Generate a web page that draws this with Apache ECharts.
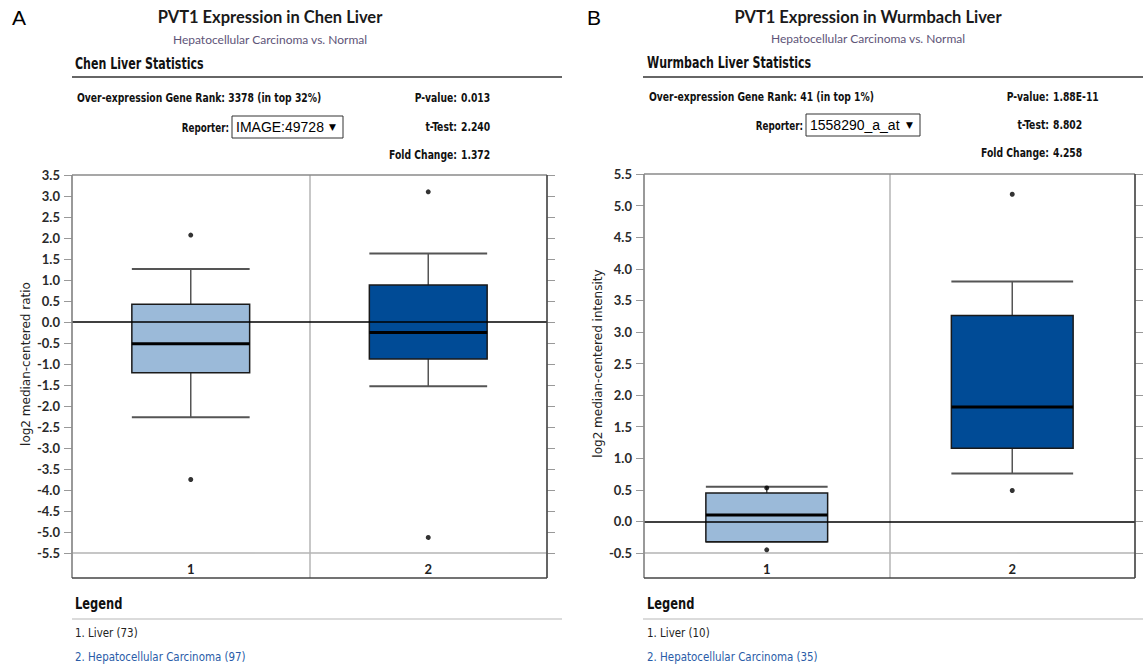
<!DOCTYPE html>
<html>
<head>
<meta charset="utf-8">
<script src="https://cdn.jsdelivr.net/npm/echarts@6/dist/echarts.min.js"></script>
<style>
html,body{margin:0;padding:0;background:#fff;}
#chart{width:1143px;height:668px;}
</style>
</head>
<body>
<div id="chart"></div>
<script>
// ---------------- data ----------------
const chenCategories = ['1', '2'];
// [lower whisker, Q1, median, Q3, upper whisker]
const chenBoxes = [
  [-2.27, -1.21, -0.52, 0.42, 1.26],
  [-1.53, -0.88, -0.25, 0.88, 1.63]
];
const chenOutliers = [[0, 2.07], [0, -3.75], [1, 3.10], [1, -5.13]];

const wurmCategories = ['1', '2'];
const wurmBoxes = [
  [-0.32, -0.32, 0.10, 0.45, 0.55],
  [0.76, 1.16, 1.81, 3.26, 3.80]
];
const wurmOutliers = [[0, 0.53], [0, -0.45], [1, 5.18], [1, 0.49]];

const chenAxis = { min: -5.5, max: 3.5, step: 0.5 };
const wurmAxis = { min: -0.5, max: 5.5, step: 0.5 };

const chenStats = {
  title: 'PVT1 Expression in Chen Liver',
  subtitle: 'Hepatocellular Carcinoma vs. Normal',
  header: 'Chen Liver Statistics',
  rank: 'Over-expression Gene Rank: 3378 (in top 32%)',
  reporter: 'IMAGE:49728',
  labels: ['P-value:', 't-Test:', 'Fold Change:'],
  values: ['0.013', '2.240', '1.372'],
  yName: 'log2 median-centered ratio',
  legend: ['1. Liver (73)', '2. Hepatocellular Carcinoma (97)']
};
const wurmStats = {
  title: 'PVT1 Expression in Wurmbach Liver',
  subtitle: 'Hepatocellular Carcinoma vs. Normal',
  header: 'Wurmbach Liver Statistics',
  rank: 'Over-expression Gene Rank: 41 (in top 1%)',
  reporter: '1558290_a_at',
  labels: ['P-value:', 't-Test:', 'Fold Change:'],
  values: ['1.88E-11', '8.802', '4.258'],
  yName: 'log2 median-centered intensity',
  legend: ['1. Liver (10)', '2. Hepatocellular Carcinoma (35)']
};

// ---------------- styles ----------------
const NARROW = '"DejaVu Sans Condensed", "DejaVu Sans", sans-serif';
const boxFill = ['#9bbad9', '#004b96'];
const gridGray = '#b4b4b4';

const chart = echarts.init(document.getElementById('chart'), null, { renderer: 'svg', width: 1143, height: 668 });

function boxRenderer(params, api) {
  const i = api.value(0);
  const lo = api.coord([i, api.value(1)]);
  const q1 = api.coord([i, api.value(2)]);
  const md = api.coord([i, api.value(3)]);
  const q3 = api.coord([i, api.value(4)]);
  const hi = api.coord([i, api.value(5)]);
  const band = api.size([1, 0])[0];
  const half = band * 0.248;
  const cx = md[0];
  const whisk = { stroke: '#555', lineWidth: 1.5 };
  const cap = { stroke: '#555', lineWidth: 2 };
  return {
    type: 'group',
    children: [
      { type: 'line', shape: { x1: cx, y1: hi[1], x2: cx, y2: q3[1] }, style: whisk },
      { type: 'line', shape: { x1: cx, y1: q1[1], x2: cx, y2: lo[1] }, style: whisk },
      { type: 'line', shape: { x1: cx - half, y1: hi[1], x2: cx + half, y2: hi[1] }, style: cap },
      { type: 'line', shape: { x1: cx - half, y1: lo[1], x2: cx + half, y2: lo[1] }, style: cap },
      { type: 'rect', shape: { x: cx - half, y: q3[1], width: 2 * half, height: q1[1] - q3[1] },
        style: { fill: boxFill[i], stroke: '#1a1a1a', lineWidth: 1.5 } },
      { type: 'line', shape: { x1: cx - half, y1: md[1], x2: cx + half, y2: md[1] },
        style: { stroke: '#000', lineWidth: 3 } }
    ]
  };
}

function xAxisFor(gi, cats) {
  return {
    type: 'category', gridIndex: gi, data: cats, boundaryGap: true, position: 'bottom',
    axisLine: { show: true, onZero: false, lineStyle: { color: gridGray, width: 1.5 } },
    axisTick: { show: true, interval: 0, length: 25, lineStyle: { color: gridGray, width: 1.5 } },
    axisLabel: { margin: 9, color: '#222', fontFamily: 'Lato', fontWeight: 'bold', fontSize: 13 },
    splitLine: { show: true, lineStyle: { color: gridGray, width: 1.5 } }
  };
}
function yAxisLeft(gi, ax, name, gap) {
  return {
    type: 'value', gridIndex: gi, position: 'left', min: ax.min, max: ax.max, interval: ax.step,
    name: name, nameLocation: 'middle', nameRotate: 90, nameGap: gap,
    nameTextStyle: { fontFamily: '"DejaVu Sans"', fontSize: 12, color: '#222' },
    axisLine: { show: false },
    axisTick: { show: true, length: 8, lineStyle: { color: '#999' } },
    axisLabel: { margin: 12, color: '#2a2a2a', fontFamily: 'Lato', fontWeight: 'bold', fontSize: 13,
      formatter: v => v.toFixed(1) },
    splitLine: { show: false }
  };
}
function yAxisRight(gi, ax) {
  return {
    type: 'value', gridIndex: gi, position: 'right', min: ax.min, max: ax.max, interval: ax.step,
    axisLine: { show: false },
    axisTick: { show: true, length: 8, lineStyle: { color: '#999' } },
    axisLabel: { show: false },
    splitLine: { show: false }
  };
}
function outlierSeries(xi, yi, data) {
  return {
    type: 'scatter', xAxisIndex: xi, yAxisIndex: yi, data: data, symbolSize: 5,
    itemStyle: { color: '#000' }, z: 5, silent: true,
    markLine: {
      silent: true, symbol: 'none', label: { show: false },
      lineStyle: { color: '#000', width: 1.6, type: 'solid' },
      data: [{ yAxis: 0 }]
    }
  };
}

// ---------- panel decorations (text & frames) ----------
function txt(text, x, y, font, fill, align, sx) {
  return { type: 'text', z: 20, x: x, y: y, scaleX: sx || 1,
    style: { text: text, x: 0, y: 0, font: font, fill: fill || '#111',
      textAlign: align || 'left', textVerticalAlign: 'middle' } };
}
function ln(x1, y1, x2, y2, color, w) {
  return { type: 'line', z: 20, shape: { x1, y1, x2, y2 }, style: { stroke: color, lineWidth: w || 1.5 } };
}
function panel(s, L) {
  const els = [];
  const SB = 'bold 13px ' + NARROW;
  els.push(txt(L.letter, L.letterX, 17, '21px "Liberation Sans", Arial, sans-serif', '#000'));
  els.push(txt(s.title, L.titleX, 17, 'bold 16.5px Lato, sans-serif', '#1a1a1a', 'center'));
  els.push(txt(s.subtitle, L.titleX, L.subY, '12px Lato, sans-serif', '#5e5478', 'center'));
  els.push(txt(s.header, L.headX, L.headY, 'bold 15px ' + NARROW, '#111', 'left', 0.82));
  els.push(ln(L.lineX1, 77, L.lineX2, 77, '#333', 1.5));
  els.push(txt(s.rank, L.headX + 2, L.rows[0], SB, '#111', 'left', 0.79));
  els.push(txt('Reporter:', L.repX, L.rows[1], SB, '#111', 'right', 0.75));
  els.push({ type: 'rect', z: 20, shape: { x: L.repX + 3, y: L.rows[1] - 11, width: L.boxW, height: 22 },
    style: { fill: '#fff', stroke: '#333', lineWidth: 1 } });
  els.push(txt(s.reporter, L.repX + 7, L.rows[1], '14px "Liberation Sans", Arial, sans-serif', '#000'));
  els.push(txt('\u25BC', L.repX + L.boxW - 4, L.rows[1], '9px "DejaVu Sans", sans-serif', '#000', 'right'));
  for (let k = 0; k < 3; k++) {
    els.push(txt(s.labels[k], L.colon, L.rows[k], SB, '#111', 'right', 0.79));
    els.push(txt(s.values[k], L.colon + 4, L.rows[k], SB, '#111', 'left', 0.79));
  }
  // plot frame
  const f = L.frame;
  els.push(ln(f.x1, f.y1, f.x2, f.y1, '#8a8a8a', 1.5));
  els.push(ln(f.x1, f.y1, f.x1, f.y2, '#8a8a8a', 1.5));
  els.push(ln(f.x2, f.y1, f.x2, f.y2, '#444', 1.5));
  els.push(ln(f.x1, f.y2, f.x2, f.y2, '#444', 1.5));
  // legend
  els.push(txt('Legend', L.headX, 604, 'bold 15px ' + NARROW, '#111', 'left', 0.85));
  els.push(ln(L.lineX1, 619, L.lineX2, 619, '#cfcfcf', 1.5));
  els.push(txt(s.legend[0], L.headX, 633, '13px ' + NARROW, '#222', 'left', 0.88));
  els.push(txt(s.legend[1], L.headX, 657, '13px ' + NARROW, '#2a5ca8', 'left', 0.88));
  return els;
}

const leftLayout = {
  letter: 'A', letterX: 12, titleX: 270, subY: 39, headX: 75, headY: 64,
  lineX1: 72, lineX2: 562, rows: [98, 127, 155], repX: 229, boxW: 111, colon: 457,
  frame: { x1: 72, y1: 175, x2: 547, y2: 578 }
};
const rightLayout = {
  letter: 'B', letterX: 587, titleX: 868, subY: 38, headX: 647, headY: 63,
  lineX1: 643, lineX2: 1143, rows: [97, 125, 153], repX: 803, boxW: 114, colon: 1049,
  frame: { x1: 644, y1: 174, x2: 1135, y2: 578 }
};

const option = {
  backgroundColor: '#fff',
  animation: false,
  grid: [
    { left: 72, top: 175, width: 475, height: 378 },
    { left: 644, top: 174, width: 491, height: 379 }
  ],
  xAxis: [xAxisFor(0, chenCategories), xAxisFor(1, wurmCategories)],
  yAxis: [
    yAxisLeft(0, chenAxis, chenStats.yName, 40),
    yAxisRight(0, chenAxis),
    yAxisLeft(1, wurmAxis, wurmStats.yName, 40),
    yAxisRight(1, wurmAxis)
  ],
  series: [
    { type: 'custom', xAxisIndex: 0, yAxisIndex: 0, renderItem: boxRenderer, z: 3,
      data: chenBoxes.map((b, i) => [i].concat(b)), encode: { x: 0, y: [1, 2, 3, 4, 5] } },
    outlierSeries(0, 0, chenOutliers),
    { type: 'custom', xAxisIndex: 1, yAxisIndex: 2, renderItem: boxRenderer, z: 3,
      data: wurmBoxes.map((b, i) => [i].concat(b)), encode: { x: 0, y: [1, 2, 3, 4, 5] } },
    outlierSeries(1, 2, wurmOutliers)
  ],
  graphic: { elements: panel(chenStats, leftLayout).concat(panel(wurmStats, rightLayout)) }
};
chart.setOption(option);
</script>
</body>
</html>
